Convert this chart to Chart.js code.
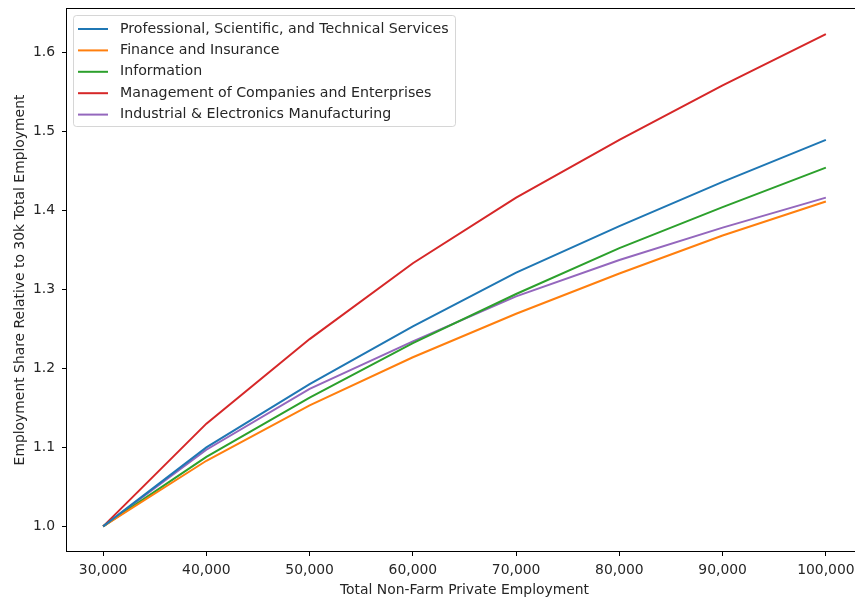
<!DOCTYPE html>
<html>
<head>
<meta charset="utf-8">
<script src="https://cdn.jsdelivr.net/npm/chart.js@4/dist/chart.umd.min.js"></script>
<style>
  html, body { margin: 0; padding: 0; background: #fff; overflow: hidden; }
  #wrap { position: relative; width: 855px; height: 597px; overflow: hidden; }
  #c { display: block; }
</style>
</head>
<body>
<div id="wrap"><canvas id="c" width="862" height="597"></canvas></div>
<script>
// Total non-farm private employment (x) and employment share relative to the 30k level (y)
const employment = [30000, 40000, 50000, 60000, 70000, 80000, 90000, 100000];

const seriesNames = [
  'Professional, Scientific, and Technical Services',
  'Finance and Insurance',
  'Information',
  'Management of Companies and Enterprises',
  'Industrial & Electronics Manufacturing'
];

const professional = [1.000, 1.100, 1.180, 1.253, 1.321, 1.380, 1.436, 1.489];
const finance      = [1.000, 1.083, 1.153, 1.214, 1.269, 1.320, 1.368, 1.411];
const information  = [1.000, 1.088, 1.163, 1.232, 1.294, 1.352, 1.404, 1.454];
const management   = [1.000, 1.130, 1.237, 1.333, 1.416, 1.489, 1.558, 1.623];
const industrial   = [1.000, 1.097, 1.174, 1.234, 1.291, 1.337, 1.378, 1.416];

const xTicks = [30000, 40000, 50000, 60000, 70000, 80000, 90000, 100000];
const yTicks = [1.0, 1.1, 1.2, 1.3, 1.4, 1.5, 1.6];

const xTitle = 'Total Non-Farm Private Employment';
const yTitle = 'Employment Share Relative to 30k Total Employment';

const palette = ['#1f77b4', '#ff7f0e', '#2ca02c', '#d62728', '#9467bd'];
const seriesValues = [professional, finance, information, management, industrial];

const FONT = 'DejaVu Sans';
const FS = 13.9;
const LEGEND_FS = 14.2;
const TEXT = '#262626';

const datasets = seriesValues.map((vals, i) => ({
  label: seriesNames[i],
  data: vals.map((v, j) => ({ x: employment[j], y: v })),
  borderColor: palette[i],
  backgroundColor: palette[i],
  borderWidth: 2,
  pointRadius: 0,
  pointHoverRadius: 0,
  tension: 0,
  fill: false
}));

// Axes frame on all four sides
const framePlugin = {
  id: 'frame',
  afterDraw(chart) {
    const { ctx, chartArea: a } = chart;
    ctx.save();
    ctx.strokeStyle = '#000';
    ctx.lineWidth = 1;
    ctx.strokeRect(Math.round(a.left) - 0.5, Math.round(a.top) - 0.5,
                   Math.round(a.right - a.left), Math.round(a.bottom - a.top) + 1);
    ctx.restore();
  }
};

// Boxed legend in the upper-left corner of the plot
const boxLegend = {
  id: 'boxLegend',
  afterDraw(chart) {
    const { ctx } = chart;
    const x = 73.5, y = 15.5, w = 382, h = 111, r = 3;
    ctx.save();
    ctx.beginPath();
    ctx.roundRect(x, y, w, h, r);
    ctx.fillStyle = 'rgba(255,255,255,0.8)';
    ctx.fill();
    ctx.strokeStyle = 'rgba(204,204,204,0.8)';
    ctx.lineWidth = 1;
    ctx.stroke();
    ctx.font = LEGEND_FS + 'px "' + FONT + '"';
    ctx.textBaseline = 'middle';
    ctx.textAlign = 'left';
    chart.data.datasets.forEach((ds, i) => {
      const cy = 29 + i * 21.4;
      ctx.beginPath();
      ctx.moveTo(78, cy);
      ctx.lineTo(108, cy);
      ctx.strokeStyle = ds.borderColor;
      ctx.lineWidth = 2;
      ctx.stroke();
      ctx.fillStyle = TEXT;
      ctx.fillText(ds.label, 120, cy);
    });
    ctx.restore();
  }
};

const whiteBg = {
  id: 'whiteBg',
  beforeDraw(chart) {
    const { ctx, width, height } = chart;
    ctx.save();
    ctx.fillStyle = '#fff';
    ctx.fillRect(0, 0, width, height);
    ctx.restore();
  }
};

new Chart(document.getElementById('c'), {
  type: 'line',
  data: { datasets },
  options: {
    responsive: false,
    animation: false,
    devicePixelRatio: 1,
    layout: { padding: { top: 9, left: 0, right: 0, bottom: 0 } },
    plugins: {
      legend: { display: false },
      tooltip: { enabled: false }
    },
    scales: {
      x: {
        type: 'linear',
        min: 26500,
        max: 103500,
        afterBuildTicks: s => { s.ticks = xTicks.map(v => ({ value: v })); },
        afterFit: s => { s.height = 46; s.paddingLeft = 0; s.paddingRight = 0; },
        grid: { drawOnChartArea: false, drawTicks: true, tickLength: 5, tickWidth: 1, tickColor: '#000' },
        border: { display: false },
        ticks: {
          padding: 6,
          color: TEXT,
          maxRotation: 0,
          autoSkip: false,
          font: { family: FONT, size: FS },
          callback: v => Number(v).toLocaleString('en-US')
        },
        title: {
          display: true,
          text: xTitle,
          color: TEXT,
          font: { family: FONT, size: FS },
          padding: { top: 0, bottom: -2 }
        }
      },
      y: {
        type: 'linear',
        min: 0.96883,
        max: 1.65467,
        afterBuildTicks: s => { s.ticks = yTicks.map(v => ({ value: v })); },
        afterFit: s => { s.width = 67; s.paddingTop = 0; s.paddingBottom = 0; },
        grid: { drawOnChartArea: false, drawTicks: true, tickLength: 5, tickWidth: 1, tickColor: '#000' },
        border: { display: false },
        ticks: {
          padding: 7,
          color: TEXT,
          autoSkip: false,
          font: { family: FONT, size: FS },
          callback: v => Number(v).toFixed(1)
        },
        title: {
          display: true,
          text: yTitle,
          color: TEXT,
          font: { family: FONT, size: FS },
          padding: { top: 12, bottom: 0 }
        }
      }
    }
  },
  plugins: [whiteBg, framePlugin, boxLegend]
});
</script>
</body>
</html>
